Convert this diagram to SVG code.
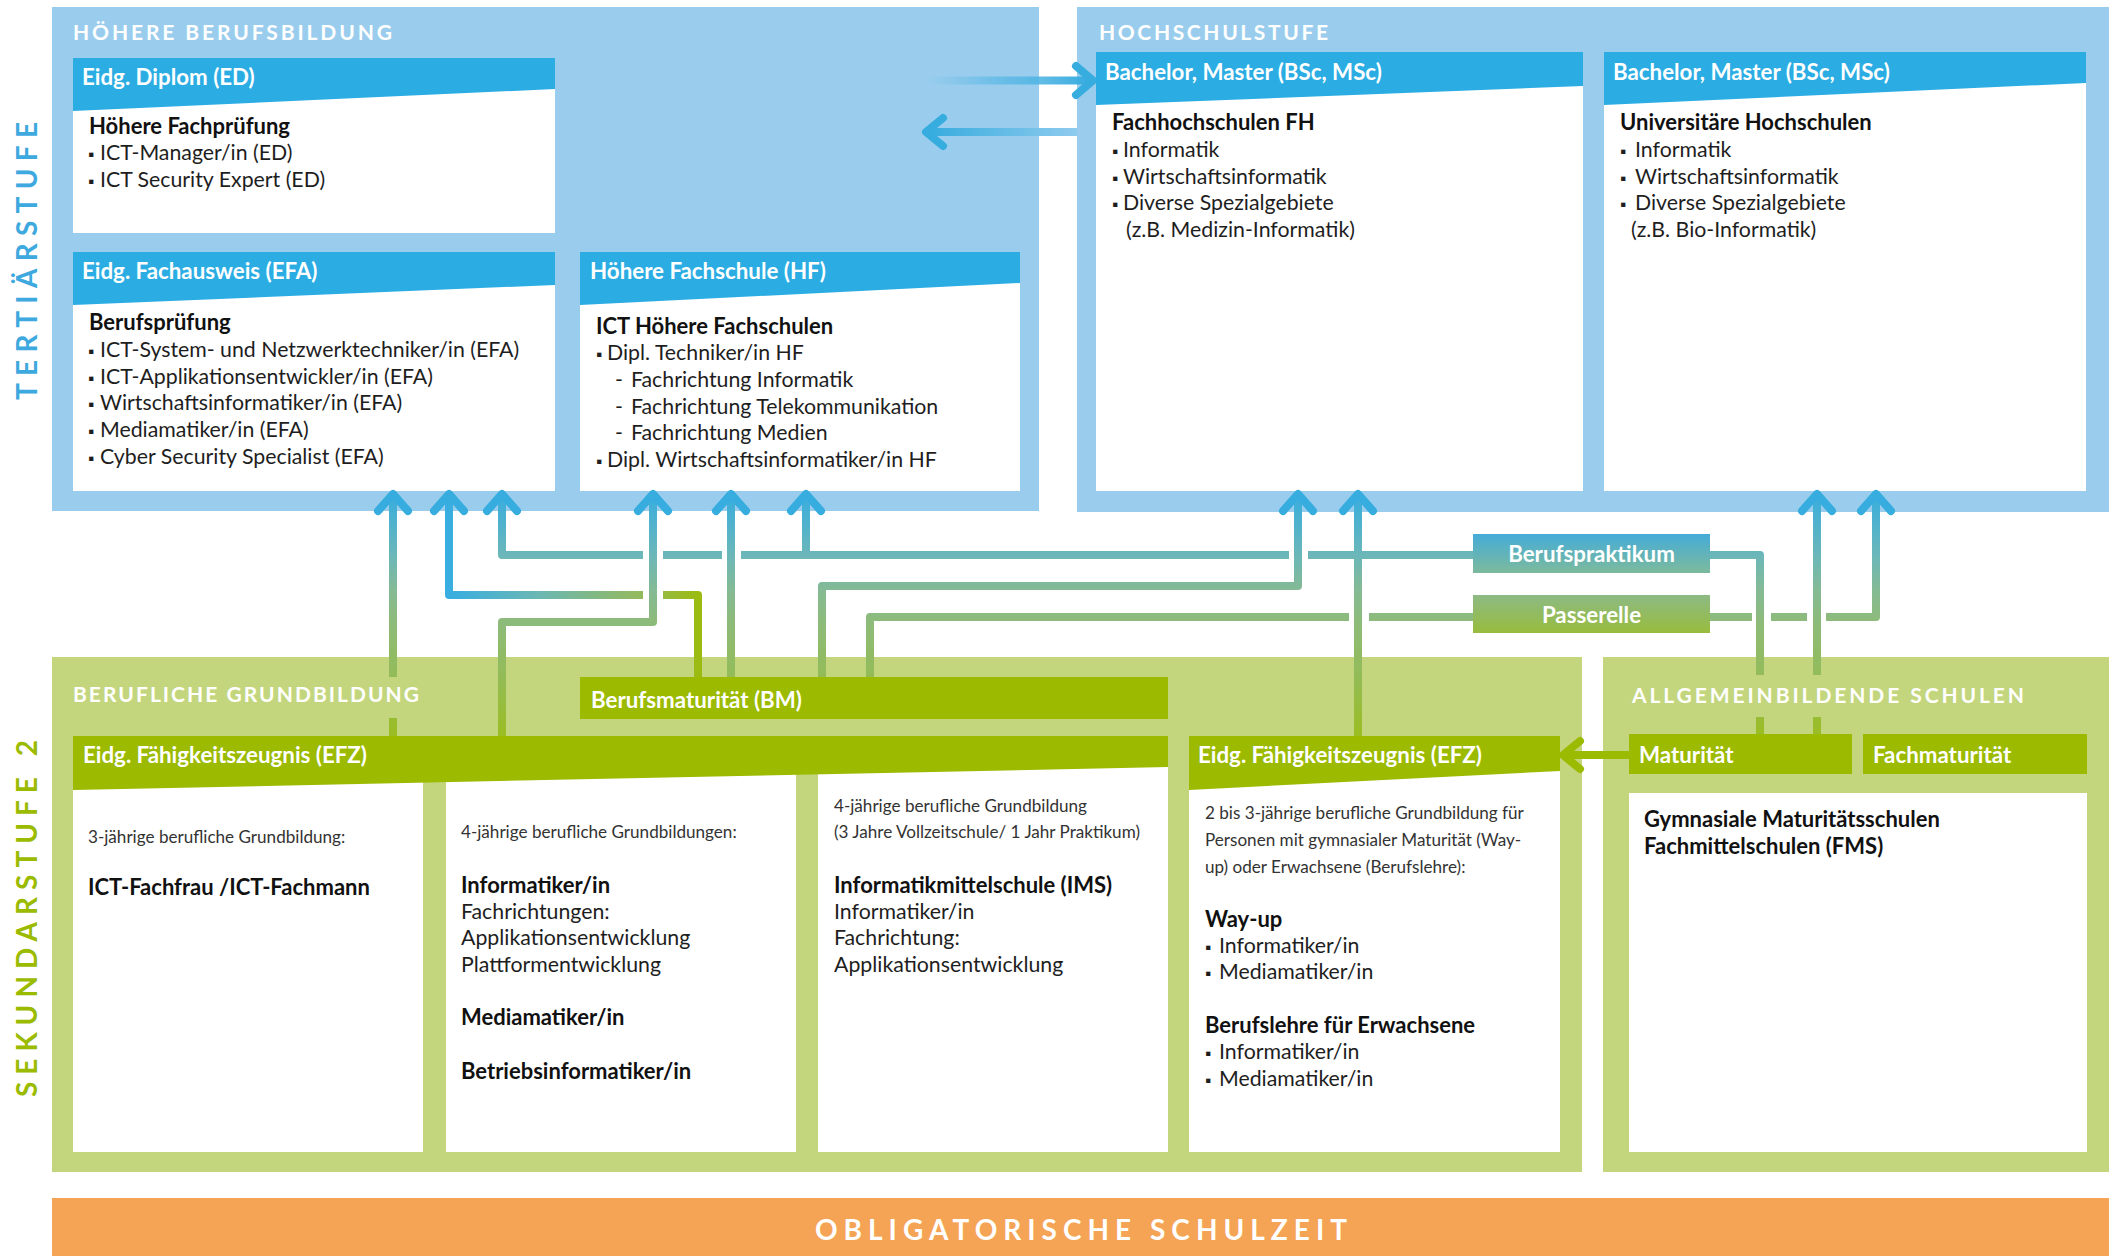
<svg xmlns="http://www.w3.org/2000/svg" width="2115" height="1256" viewBox="0 0 2115 1256">
<style>
.pB{fill:#9ACDED}
.pG{fill:#C3D67E}
.wh{fill:#FFFFFF}
.hB{fill:#2BADE3}
.hG{fill:#9BBA00}
.sec{font-family:Lato,"Open Sans",sans-serif;font-weight:700;fill:#FFFFFF;font-size:21px}
.ht{font-family:Lato,"Open Sans",sans-serif;font-weight:700;fill:#FFFFFF;font-size:22.3px}
.tt{font-family:Lato,"Open Sans",sans-serif;font-weight:700;fill:#111111;font-size:22px;transform:translateY(1.5px)}
.bt{font-family:Lato,"Open Sans",sans-serif;fill:#1E1E1E;font-size:21.3px;transform:translateY(1.5px)}
.sm{font-family:Lato,"Open Sans",sans-serif;fill:#333333;font-size:17.1px;transform:translateY(1px)}
.bu{font-size:16px}
.con{fill:none;stroke-width:8;stroke-linejoin:round}
.chev{fill:none;stroke:#37ADDF;stroke-width:8;stroke-linecap:round;stroke-linejoin:round}
</style>
<defs>
<linearGradient id="gv" gradientUnits="userSpaceOnUse" x1="0" y1="492" x2="0" y2="736">
<stop offset="0" stop-color="#35ADE0"/>
<stop offset="0.26" stop-color="#6BB7B9"/>
<stop offset="0.4" stop-color="#84BA95"/>
<stop offset="0.52" stop-color="#8CBB7C"/>
<stop offset="0.75" stop-color="#93BC58"/>
<stop offset="1" stop-color="#9BBD22"/>
</linearGradient>
<linearGradient id="gh2" gradientUnits="userSpaceOnUse" x1="449" y1="0" x2="700" y2="0">
<stop offset="0" stop-color="#38AEE0"/>
<stop offset="0.35" stop-color="#6AB7B5"/>
<stop offset="0.75" stop-color="#92BA60"/>
<stop offset="1" stop-color="#9CBB10"/>
</linearGradient>
<linearGradient id="gR" gradientUnits="userSpaceOnUse" x1="927" y1="0" x2="1094" y2="0">
<stop offset="0" stop-color="#5DB9E6" stop-opacity="0"/>
<stop offset="0.45" stop-color="#5DB9E6" stop-opacity="0.8"/>
<stop offset="1" stop-color="#35ABDE"/>
</linearGradient>
<linearGradient id="gL" gradientUnits="userSpaceOnUse" x1="926" y1="0" x2="1077" y2="0">
<stop offset="0" stop-color="#35ABDE"/>
<stop offset="1" stop-color="#8FCBEE"/>
</linearGradient>
<linearGradient id="gBP" x1="0" y1="0" x2="0" y2="1">
<stop offset="0" stop-color="#45ACD8"/>
<stop offset="1" stop-color="#7DBA9C"/>
</linearGradient>
<linearGradient id="gPA" x1="0" y1="0" x2="0" y2="1">
<stop offset="0" stop-color="#8DBA84"/>
<stop offset="1" stop-color="#98BC3C"/>
</linearGradient>
</defs>
<rect x="0" y="0" width="2115" height="1256" fill="#FFFFFF"/>

<g id="stage-labels">
<text class="sec" style="font-size:28px;fill:#3DA9DE" transform="translate(37,400) rotate(-90)" x="0" y="0" textLength="278" lengthAdjust="spacing">TERTIÄRSTUFE</text>
<text class="sec" style="font-size:28px;fill:#9BBB00" transform="translate(37,1097) rotate(-90)" x="0" y="0" textLength="357" lengthAdjust="spacing">SEKUNDARSTUFE 2</text>
</g>

<g id="hoehere-berufsbildung">
<rect class="pB" x="52" y="7" width="987" height="504"/>
<text class="sec" x="73" y="40" textLength="319" lengthAdjust="spacing">HÖHERE BERUFSBILDUNG</text>
</g>

<g id="hochschulstufe">
<rect class="pB" x="1077" y="7" width="1032" height="505"/>
<text class="sec" x="1099" y="40" textLength="229" lengthAdjust="spacing">HOCHSCHULSTUFE</text>
</g>

<g id="node-ed">
<rect class="wh" x="73" y="58" width="482" height="175"/>
<polygon class="hB" points="73,58 555,58 555,89 73,111"/>
<text class="ht" x="82" y="85">Eidg. Diplom (ED)</text>
<text class="tt" x="89" y="132">Höhere Fachprüfung</text>
<text class="bt" y="158"><tspan class="bu" x="88">▪</tspan><tspan x="100">ICT-Manager/in (ED)</tspan></text>
<text class="bt" y="185"><tspan class="bu" x="88">▪</tspan><tspan x="100">ICT Security Expert (ED)</tspan></text>
</g>

<g id="node-efa">
<rect class="wh" x="73" y="252" width="482" height="239"/>
<polygon class="hB" points="73,252 555,252 555,285 73,305"/>
<text class="ht" x="82" y="279">Eidg. Fachausweis (EFA)</text>
<text class="tt" x="89" y="328">Berufsprüfung</text>
<text class="bt" y="355"><tspan class="bu" x="88">▪</tspan><tspan x="100">ICT-System- und Netzwerktechniker/in (EFA)</tspan></text>
<text class="bt" y="382"><tspan class="bu" x="88">▪</tspan><tspan x="100">ICT-Applikationsentwickler/in (EFA)</tspan></text>
<text class="bt" y="408"><tspan class="bu" x="88">▪</tspan><tspan x="100">Wirtschaftsinformatiker/in (EFA)</tspan></text>
<text class="bt" y="435"><tspan class="bu" x="88">▪</tspan><tspan x="100">Mediamatiker/in (EFA)</tspan></text>
<text class="bt" y="462"><tspan class="bu" x="88">▪</tspan><tspan x="100">Cyber Security Specialist (EFA)</tspan></text>
</g>

<g id="node-hf">
<rect class="wh" x="580" y="252" width="440" height="239"/>
<polygon class="hB" points="580,252 1020,252 1020,283 580,305"/>
<text class="ht" x="590" y="279">Höhere Fachschule (HF)</text>
<text class="tt" x="596" y="332">ICT Höhere Fachschulen</text>
<text class="bt" y="358"><tspan class="bu" x="596">▪</tspan><tspan x="607">Dipl. Techniker/in HF</tspan></text>
<text class="bt" y="385"><tspan x="615">-</tspan><tspan x="631">Fachrichtung Informatik</tspan></text>
<text class="bt" y="412"><tspan x="615">-</tspan><tspan x="631">Fachrichtung Telekommunikation</tspan></text>
<text class="bt" y="438"><tspan x="615">-</tspan><tspan x="631">Fachrichtung Medien</tspan></text>
<text class="bt" y="465"><tspan class="bu" x="596">▪</tspan><tspan x="607">Dipl. Wirtschaftsinformatiker/in HF</tspan></text>
</g>

<g id="node-fh">
<rect class="wh" x="1096" y="52" width="487" height="439"/>
<polygon class="hB" points="1096,52 1583,52 1583,86 1096,105"/>
<text class="ht" x="1105" y="80">Bachelor, Master (BSc, MSc)</text>
<text class="tt" x="1112" y="128">Fachhochschulen FH</text>
<text class="bt" y="155"><tspan class="bu" x="1112">▪</tspan><tspan x="1123">Informatik</tspan></text>
<text class="bt" y="182"><tspan class="bu" x="1112">▪</tspan><tspan x="1123">Wirtschaftsinformatik</tspan></text>
<text class="bt" y="208"><tspan class="bu" x="1112">▪</tspan><tspan x="1123">Diverse Spezialgebiete</tspan></text>
<text class="bt" x="1126" y="235">(z.B. Medizin-Informatik)</text>
</g>

<g id="node-uni">
<rect class="wh" x="1604" y="52" width="482" height="439"/>
<polygon class="hB" points="1604,52 2086,52 2086,83 1604,105"/>
<text class="ht" x="1613" y="80">Bachelor, Master (BSc, MSc)</text>
<text class="tt" x="1620" y="128">Universitäre Hochschulen</text>
<text class="bt" y="155"><tspan class="bu" x="1620">▪</tspan><tspan x="1635">Informatik</tspan></text>
<text class="bt" y="182"><tspan class="bu" x="1620">▪</tspan><tspan x="1635">Wirtschaftsinformatik</tspan></text>
<text class="bt" y="208"><tspan class="bu" x="1620">▪</tspan><tspan x="1635">Diverse Spezialgebiete</tspan></text>
<text class="bt" x="1631" y="235">(z.B. Bio-Informatik)</text>
</g>

<g id="berufliche-grundbildung">
<rect class="pG" x="52" y="657" width="1530" height="515"/>
<text class="sec" x="73" y="702" textLength="346" lengthAdjust="spacing">BERUFLICHE GRUNDBILDUNG</text>
</g>

<g id="allgemeinbildende-schulen">
<rect class="pG" x="1603" y="657" width="506" height="515"/>
<text class="sec" x="1632" y="703" textLength="392" lengthAdjust="spacing">ALLGEMEINBILDENDE SCHULEN</text>
</g>

<g id="node-bm">
<rect class="hG" x="580" y="677" width="588" height="42"/>
<text class="ht" x="591" y="708">Berufsmaturität (BM)</text>
</g>

<g id="node-efz">
<rect class="wh" x="73" y="736" width="350" height="416"/>
<rect class="wh" x="446" y="736" width="350" height="416"/>
<rect class="wh" x="818" y="736" width="350" height="416"/>
<polygon class="hG" points="73,736 1168,736 1168,767 73,790"/>
<text class="ht" x="83" y="763">Eidg. Fähigkeitszeugnis (EFZ)</text>
<text class="sm" x="88" y="842">3-jährige berufliche Grundbildung:</text>
<text class="tt" x="88" y="893">ICT-Fachfrau /ICT-Fachmann</text>
<text class="sm" x="461" y="837">4-jährige berufliche Grundbildungen:</text>
<text class="tt" x="461" y="891">Informatiker/in</text>
<text class="bt" x="461" y="917">Fachrichtungen:</text>
<text class="bt" x="461" y="943">Applikationsentwicklung</text>
<text class="bt" x="461" y="970">Plattformentwicklung</text>
<text class="tt" x="461" y="1023">Mediamatiker/in</text>
<text class="tt" x="461" y="1077">Betriebsinformatiker/in</text>
<text class="sm" x="834" y="811">4-jährige berufliche Grundbildung</text>
<text class="sm" x="834" y="837">(3 Jahre Vollzeitschule/ 1 Jahr Praktikum)</text>
<text class="tt" x="834" y="891">Informatikmittelschule (IMS)</text>
<text class="bt" x="834" y="917">Informatiker/in</text>
<text class="bt" x="834" y="943">Fachrichtung:</text>
<text class="bt" x="834" y="970">Applikationsentwicklung</text>
</g>

<g id="node-efz-erwachsene">
<rect class="wh" x="1189" y="736" width="371" height="416"/>
<polygon class="hG" points="1189,736 1560,736 1560,771 1189,790"/>
<text class="ht" x="1198" y="763">Eidg. Fähigkeitszeugnis (EFZ)</text>
<text class="sm" x="1205" y="818">2 bis 3-jährige berufliche Grundbildung für</text>
<text class="sm" x="1205" y="845">Personen mit gymnasialer Maturität (Way-</text>
<text class="sm" x="1205" y="872">up) oder Erwachsene (Berufslehre):</text>
<text class="tt" x="1205" y="925">Way-up</text>
<text class="bt" y="951"><tspan class="bu" x="1205">▪</tspan><tspan x="1219">Informatiker/in</tspan></text>
<text class="bt" y="977"><tspan class="bu" x="1205">▪</tspan><tspan x="1219">Mediamatiker/in</tspan></text>
<text class="tt" x="1205" y="1031">Berufslehre für Erwachsene</text>
<text class="bt" y="1057"><tspan class="bu" x="1205">▪</tspan><tspan x="1219">Informatiker/in</tspan></text>
<text class="bt" y="1084"><tspan class="bu" x="1205">▪</tspan><tspan x="1219">Mediamatiker/in</tspan></text>
</g>

<g id="node-maturitaet">
<rect class="hG" x="1629" y="734" width="223" height="40"/>
<text class="ht" x="1639" y="763">Maturität</text>
</g>

<g id="node-fachmaturitaet">
<rect class="hG" x="1863" y="734" width="224" height="40"/>
<text class="ht" x="1873" y="763">Fachmaturität</text>
</g>

<g id="node-gymnasium">
<rect class="wh" x="1629" y="793" width="458" height="359"/>
<text class="tt" x="1644" y="825">Gymnasiale Maturitätsschulen</text>
<text class="tt" x="1644" y="852">Fachmittelschulen (FMS)</text>
</g>

<g id="node-berufspraktikum">
<rect x="1473" y="534" width="237" height="39" fill="url(#gBP)"/>
<text class="ht" x="1591.5" y="562" text-anchor="middle">Berufspraktikum</text>
</g>

<g id="node-passerelle">
<rect x="1473" y="595" width="237" height="38" fill="url(#gPA)"/>
<text class="ht" x="1591.5" y="623" text-anchor="middle">Passerelle</text>
</g>

<g id="obligatorische-schulzeit">
<rect x="52" y="1198" width="2057" height="58" fill="#F5A455"/>
<text class="sec" style="font-size:28px" x="815" y="1240" textLength="532" lengthAdjust="spacing">OBLIGATORISCHE SCHULZEIT</text>
</g>

<g id="connectors">
<path d="M927,80.5 H1090" stroke="url(#gR)" stroke-width="8" fill="none"/>
<path class="chev" d="M1076,66 L1093,80.5 L1076,95" stroke="#35ABDE"/>
<path d="M930,132 H1077" stroke="url(#gL)" stroke-width="8" fill="none"/>
<path class="chev" d="M943,118 L926,132 L943,146" stroke="#35ABDE"/>

<path class="con" stroke="url(#gv)" d="M393,736 V718 M393,677 V495"/>
<path class="con" stroke="url(#gh2)" d="M698,677 V595 H663 M643,595 H449 V495"/>
<path class="con" stroke="url(#gv)" d="M502,495 V555 H643 M663,555 H722 M741,555 H1289 M1308,555 H1473 M1710,555 H1760 V675 M1760,717 V734 M806,495 V555"/>
<path class="con" stroke="url(#gv)" d="M502,736 V622 H653 V495"/>
<path class="con" stroke="url(#gv)" d="M731,677 V495"/>
<path class="con" stroke="url(#gv)" d="M822,677 V586 H1298 V495"/>
<path class="con" stroke="url(#gv)" d="M870,677 V617 H1349 M1369,617 H1473 M1710,617 H1752 M1771,617 H1807 M1826,617 H1876 V495"/>
<path class="con" stroke="url(#gv)" d="M1358,736 V495"/>
<path class="con" stroke="url(#gv)" d="M1817,734 V717 M1817,675 V495"/>

<path class="chev" d="M378,511 L393,494 L408,511"/>
<path class="chev" d="M434,511 L449,494 L464,511"/>
<path class="chev" d="M487,511 L502,494 L517,511"/>
<path class="chev" d="M638,511 L653,494 L668,511"/>
<path class="chev" d="M716,511 L731,494 L746,511"/>
<path class="chev" d="M791,511 L806,494 L821,511"/>
<path class="chev" d="M1283,511 L1298,494 L1313,511"/>
<path class="chev" d="M1343,511 L1358,494 L1373,511"/>
<path class="chev" d="M1802,511 L1817,494 L1832,511"/>
<path class="chev" d="M1861,511 L1876,494 L1891,511"/>

<path d="M1629,755 H1566" stroke="#9BBB00" stroke-width="8" fill="none"/>
<path class="chev" d="M1580,741 L1563,755 L1580,769" style="stroke:#9BBB00"/>
</g>
</svg>
